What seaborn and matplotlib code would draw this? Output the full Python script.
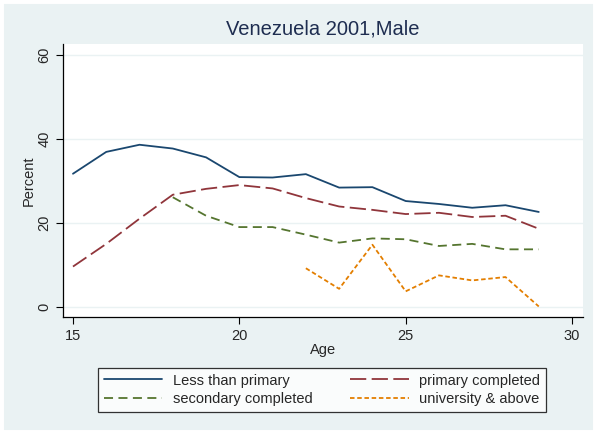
import numpy as np
import pandas as pd
import matplotlib
matplotlib.use('Agg')
import matplotlib.pyplot as plt
import seaborn as sns

ages = list(range(15, 30))
less_than_primary = [31.7, 36.9, 38.6, 37.7, 35.6, 30.9, 30.8, 31.6, 28.4, 28.5, 25.2, 24.5, 23.6, 24.2, 22.6]
primary_completed = [9.6, 15.0, 21.0, 26.7, 28.1, 29.0, 28.2, 25.9, 23.9, 23.1, 22.1, 22.4, 21.4, 21.7, 18.6]
secondary_completed = [np.nan, np.nan, np.nan, 26.1, 21.7, 19.0, 19.0, 17.2, 15.3, 16.3, 16.1, 14.5, 15.0, 13.7, 13.7]
university_above = [np.nan] * 7 + [9.2, 4.3, 14.8, 3.7, 7.5, 6.3, 7.1, 0.1]

labels = ['Less than primary', 'primary completed', 'secondary completed', 'university & above']
series = [less_than_primary, primary_completed, secondary_completed, university_above]

df = pd.concat(
    [pd.DataFrame({'Age': ages, 'Percent': vals, 'group': lab}) for lab, vals in zip(labels, series)],
    ignore_index=True,
).dropna()

bg = '#eaf2f3'
palette = dict(zip(labels, ['#1a476f', '#90353b', '#55752f', '#e37e00']))
dashes = dict(zip(labels, ['', (9, 3), (5, 3), (2.5, 1.5)]))

sns.set_style('white')
plt.rcParams['font.family'] = ['Liberation Sans', 'DejaVu Sans']

fig = plt.figure(figsize=(5.96, 4.33), dpi=100, facecolor=bg)
# thin white margin around the graph region, as in the exported Stata image
fig.patches.append(plt.Rectangle((0, 0), 1, 1, transform=fig.transFigure, fill=False,
                                 edgecolor='white', linewidth=5, zorder=10))
ax = fig.add_axes([0.1057, 0.268, 0.8725, 0.6305])
ax.set_facecolor('white')

sns.lineplot(data=df, x='Age', y='Percent', hue='group', style='group',
             palette=palette, dashes=dashes, linewidth=1.3, ax=ax)

ax.set_xlim(14.7, 30.33)
ax.set_ylim(-2.4, 62.6)
ax.set_xticks([15, 20, 25, 30])
ax.set_yticks([0, 20, 40, 60])
ax.yaxis.grid(True, color=bg, linewidth=1.0)
ax.set_axisbelow(True)
for s in ['top', 'right']:
    ax.spines[s].set_visible(False)
for s in ['left', 'bottom']:
    ax.spines[s].set_color('black')
    ax.spines[s].set_linewidth(0.9)
ax.tick_params(axis='both', direction='out', length=5, width=0.8, color='black',
               labelsize=10.5, left=True, bottom=True)
for t in ax.get_yticklabels():
    t.set_rotation(90)
    t.set_va('center')

ax.set_xlabel('Age', fontsize=10.5, labelpad=0)
ax.set_ylabel('Percent', fontsize=10.5, labelpad=1)
fig.text(0.542, 0.932, 'Venezuela 2001,Male', ha='center', va='center',
         fontsize=14.5, color='#1e2d50')

# row-major order like the reference legend
handles, labs = ax.get_legend_handles_labels()
order = [0, 2, 1, 3]
ax.legend_.remove()
leg = fig.legend([handles[i] for i in order], [labs[i] for i in order], ncol=2, loc='center',
                 bbox_to_anchor=(0.54, 0.1), fontsize=10.5,
                 frameon=True, fancybox=False, edgecolor='black', facecolor='white',
                 handlelength=4.0, handletextpad=0.7, columnspacing=2.6,
                 borderpad=0.4, labelspacing=0.3)
leg.get_frame().set_linewidth(0.9)

fig.savefig('out.png', dpi=100, facecolor=bg)
